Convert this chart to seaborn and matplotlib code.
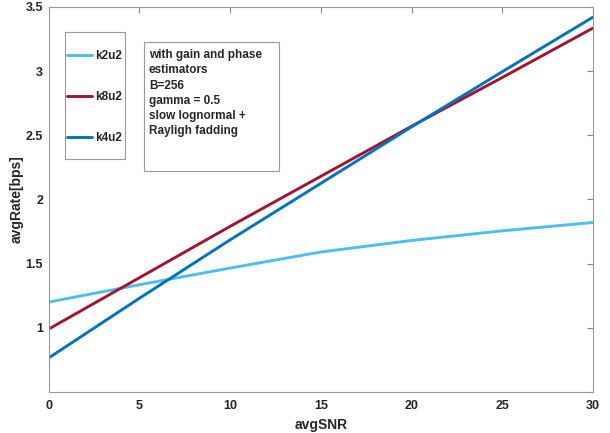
import numpy as np
import pandas as pd
import matplotlib.pyplot as plt
import seaborn as sns
from matplotlib.patches import Rectangle

# values
snr = [0, 5, 10, 15, 20, 25, 30]
k2u2 = [1.20, 1.335, 1.465, 1.59, 1.68, 1.755, 1.82]
k8u2 = [0.99, 1.39, 1.79, 2.18, 2.57, 2.95, 3.335]
k4u2 = [0.765, 1.23, 1.685, 2.125, 2.565, 2.995, 3.42]

series = ['k2u2', 'k8u2', 'k4u2']
colors = ['#4DBEEE', '#A2142F', '#0072BD']

df = pd.DataFrame({'avgSNR': snr * 3,
                   'avgRate': k2u2 + k8u2 + k4u2,
                   'curve': [s for s in series for _ in snr]})

sns.set_style('white')
plt.rcParams['font.family'] = ['Liberation Sans', 'DejaVu Sans']

fig = plt.figure(figsize=(6.1, 4.33), dpi=100)
ax = fig.add_axes([0.080, 0.095, 0.892, 0.889])

sns.lineplot(data=df, x='avgSNR', y='avgRate', hue='curve', hue_order=series,
             palette=colors, linewidth=2.1, ax=ax)

ax.set_xlim(0, 30)
ax.set_ylim(0.5, 3.5)
ax.set_xticks(range(0, 31, 5))
ax.set_yticks([0.5, 1, 1.5, 2, 2.5, 3, 3.5])
ax.set_yticklabels(['', '1', '1.5', '2', '2.5', '3', '3.5'])
ax.tick_params(direction='in', length=4, color='#888888', labelsize=9,
               top=True, right=True, pad=6)
ax.tick_params(axis='y', pad=4)
for lab in ax.get_xticklabels() + ax.get_yticklabels():
    lab.set_fontweight('bold')
    lab.set_color('#262626')
for sp in ax.spines.values():
    sp.set_color('#999999')
    sp.set_linewidth(0.8)

ax.set_xlabel('avgSNR', fontsize=10, fontweight='bold', color='#262626')
ax.set_ylabel('avgRate[bps]', fontsize=10, fontweight='bold', color='#262626',
              labelpad=0)
ax.yaxis.set_label_coords(-0.046, 0.5)

# legend without its own frame, box drawn separately
leg = ax.legend(loc='upper left', bbox_to_anchor=(0.033, 0.888), borderaxespad=0,
                frameon=False, labelspacing=2.45, handlelength=2.1,
                handletextpad=0.3, borderpad=0, title=None,
                prop={'size': 8.5, 'weight': 'bold'})
for t in leg.get_texts():
    t.set_color('#262626')
ax.add_patch(Rectangle((0.029, 0.605), 0.111, 0.330, transform=ax.transAxes,
                       fill=False, edgecolor='#999999', linewidth=0.8, zorder=5))

ax.add_patch(Rectangle((0.175, 0.574), 0.248, 0.335, transform=ax.transAxes,
                       fill=False, edgecolor='#999999', linewidth=0.8, zorder=5))
ax.text(0.184, 0.89, 'with gain and phase\nestimators\nB=256\ngamma = 0.5\n'
        'slow lognormal +\nRayligh fadding', transform=ax.transAxes,
        va='top', ha='left', fontsize=8.5, fontweight='bold', color='#262626',
        linespacing=1.35)

fig.savefig('out.png', dpi=100)
